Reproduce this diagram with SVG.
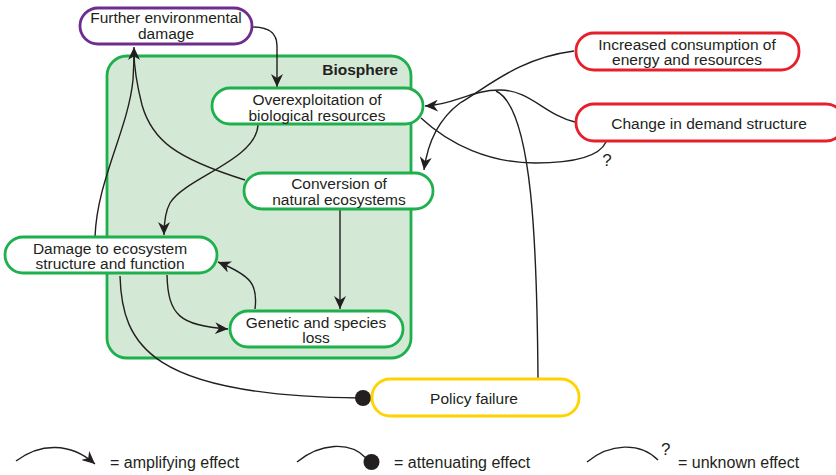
<svg xmlns="http://www.w3.org/2000/svg" width="836" height="475" viewBox="0 0 836 475">
<defs>
<style>
text{font-family:"Liberation Sans",Arial,sans-serif;fill:#231f20;font-size:15.5px}
.c{text-anchor:middle}
.node{fill:#ffffff;stroke-width:2.8}
.g{stroke:#1db04c}
.p{stroke:#6e2c8f}
.r{stroke:#e5202b}
.y{stroke:#ffd300}
.ln{fill:none;stroke:#231f20;stroke-width:1.4}
.ar{marker-end:url(#arr)}
.dot{fill:#231f20}
</style>
<marker id="arr" markerUnits="userSpaceOnUse" markerWidth="14" markerHeight="12" viewBox="0 0 14 12" refX="13" refY="6" orient="auto">
<path d="M0,0 L13,6 L0,12 L4,6 z" fill="#231f20"/>
</marker>
</defs>
<g id="biosphere">
<rect x="107" y="56" width="304" height="302" rx="20" fill="#d4e9d5" stroke="#1db04c" stroke-width="2.8"/>
<text x="398" y="75" style="font-weight:bold;text-anchor:end">Biosphere</text>
</g>
<g id="connectors">
<path class="ln ar" d="M252,27 C268,27 277,32 277,46 L277,87"/>
<path class="ln ar" d="M95,237 C97,180 128,130 133,80 C134,65 134,55 134,47"/>
<path class="ln" d="M245,180 C175,158 152,140 142,105 C137,85 134,65 134,52"/>
<path class="ln ar" d="M258,125 C256,160 185,178 170,203 C165,212 164,222 164,235"/>
<path class="ln ar" d="M340,210 L340,309"/>
<path class="ln ar" d="M167,275 C168,315 180,326 228,329"/>
<path class="ln ar" d="M255,309 C258,285 252,276 218,262"/>
<path class="ln" d="M120,276 C122,345 150,396 360,398"/>
<circle class="dot" cx="363" cy="398" r="8"/>
<path class="ln ar" d="M574,51 C520,58 490,85 460,103 C440,118 428,140 424,170"/>
<path class="ln ar" d="M575,122 C545,115 530,90 500,90 C470,90 455,105 425,106"/>
<path class="ln" d="M538,378 C537,250 533,108 496,91"/>
<path class="ln" d="M421,118 C450,145 490,163 535,163 C578,163 600,155 606,142"/>
<text class="c" x="607" y="166" style="font-size:17px">?</text>
</g>
<g id="further">
<rect class="node p" x="80" y="8" width="172" height="36" rx="18"/>
<text class="c" x="166" y="23">Further environmental</text>
<text class="c" x="166" y="38.5">damage</text>
</g>
<g id="overexploitation">
<rect class="node g" x="212" y="88" width="211" height="36" rx="18"/>
<text class="c" x="317" y="105">Overexploitation of</text>
<text class="c" x="317" y="120.5">biological resources</text>
</g>
<g id="conversion">
<rect class="node g" x="244" y="173" width="189" height="36" rx="18"/>
<text class="c" x="339" y="189">Conversion of</text>
<text class="c" x="339" y="204.5">natural ecosystems</text>
</g>
<g id="damage">
<rect class="node g" x="5" y="237" width="212" height="36" rx="18"/>
<text class="c" x="110" y="253.5">Damage to ecosystem</text>
<text class="c" x="110" y="269">structure and function</text>
</g>
<g id="genetic">
<rect class="node g" x="230" y="311" width="173" height="36" rx="18"/>
<text class="c" x="316" y="327.5">Genetic and species</text>
<text class="c" x="316" y="343">loss</text>
</g>
<g id="increased">
<rect class="node r" x="576" y="33" width="223" height="37" rx="18"/>
<text class="c" x="687" y="49.5">Increased consumption of</text>
<text class="c" x="687" y="65">energy and resources</text>
</g>
<g id="change">
<rect class="node r" x="576" y="104" width="268" height="37" rx="18"/>
<text class="c" x="709" y="128.5">Change in demand structure</text>
</g>
<g id="policy">
<rect class="node y" x="372" y="379" width="207" height="37" rx="18"/>
<text class="c" x="474" y="404">Policy failure</text>
</g>
<g id="legend">
<path class="ln ar" d="M16,461 C40,443 70,442 95,464"/>
<text x="110" y="468" style="font-size:16px">= amplifying effect</text>
<path class="ln" d="M297,462 C320,443 350,441 366,458"/>
<circle class="dot" cx="371.5" cy="462" r="8"/>
<text x="394" y="468" style="font-size:16px">= attenuating effect</text>
<path class="ln" d="M587,462 C610,443 640,442 658,460"/>
<text x="661" y="455" style="font-size:17px">?</text>
<text x="678" y="468" style="font-size:16px">= unknown effect</text>
</g>
</svg>
